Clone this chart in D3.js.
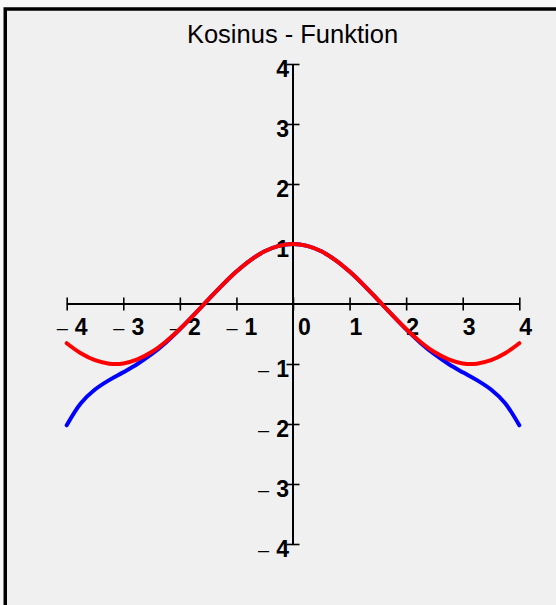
<!DOCTYPE html>
<html>
<head>
<meta charset="utf-8">
<script src="https://cdn.jsdelivr.net/npm/d3@7"></script>
<style>
  html, body { margin: 0; padding: 0; background: #f9f9f9; }
  svg { display: block; }
</style>
</head>
<body>
<svg id="chart" width="556" height="605"></svg>
<script>
// ---- data ----
const title = "Kosinus - Funktion";
const xValues = [-4, -3.75, -3.5, -3.25, -3, -2.75, -2.5, -2.25, -2, -1.75, -1.5, -1.25, -1, -0.75, -0.5, -0.25,
                 0, 0.25, 0.5, 0.75, 1, 1.25, 1.5, 1.75, 2, 2.25, 2.5, 2.75, 3, 3.25, 3.5, 3.75, 4];
// cos(x) (red)
const cosValues = [-0.654, -0.821, -0.937, -0.994, -0.990, -0.924, -0.801, -0.628, -0.416, -0.178, 0.071, 0.315, 0.540, 0.732, 0.878, 0.969,
                   1.000, 0.969, 0.878, 0.732, 0.540, 0.315, 0.071, -0.178, -0.416, -0.628, -0.801, -0.924, -0.990, -0.994, -0.937, -0.821, -0.654];
// Taylor approximation (blue)
const taylorValues = [-2.022, -1.654, -1.426, -1.269, -1.138, -0.999, -0.837, -0.644, -0.422, -0.180, 0.070, 0.315, 0.540, 0.732, 0.878, 0.969,
                      1.000, 0.969, 0.878, 0.732, 0.540, 0.315, 0.070, -0.180, -0.422, -0.644, -0.837, -0.999, -1.138, -1.269, -1.426, -1.654, -2.022];
const xTicks = [-4, -3, -2, -1, 0, 1, 2, 3, 4];
const yTicks = [-4, -3, -2, -1, 1, 2, 3, 4];

// ---- chart ----
const svg = d3.select("#chart");
svg.append("rect")
  .attr("x", 5.25).attr("y", 9)
  .attr("width", 600).attr("height", 650)
  .attr("fill", "#f0f0f0")
  .attr("stroke", "#000").attr("stroke-width", 3.5);

svg.append("text")
  .attr("x", 292.5).attr("y", 42.5)
  .attr("text-anchor", "middle")
  .attr("font-family", "'Liberation Sans', Arial, sans-serif")
  .attr("font-size", 25.5)
  .attr("fill", "#000")
  .text(title);

const x = d3.scaleLinear().domain([-4, 4]).range([66.7, 519.3]);
const y = d3.scaleLinear().domain([-4, 4]).range([544, 64]);
const x0 = x(0), y0 = y(0);

// x-axis
const gx = svg.append("g").attr("transform", `translate(0,${y0 - 6.5})`)
  .call(d3.axisBottom(x).tickValues(xTicks).tickSize(13).tickSizeOuter(0).tickFormat(""));
gx.select(".domain").remove();
gx.selectAll(".tick line").attr("stroke", "#000").attr("stroke-width", 1.6);
svg.append("line").attr("x1", x(-4)).attr("x2", x(4)).attr("y1", y0).attr("y2", y0)
  .attr("stroke", "#000").attr("stroke-width", 2);

// y-axis
const gy = svg.append("g").attr("transform", `translate(${x0 + 6.5},0)`)
  .call(d3.axisLeft(y).tickValues(yTicks).tickSize(13).tickSizeOuter(0).tickFormat(""));
gy.select(".domain").remove();
gy.selectAll(".tick line").attr("stroke", "#000").attr("stroke-width", 1.6);
svg.append("line").attr("x1", x0).attr("x2", x0).attr("y1", y(4)).attr("y2", y(-4))
  .attr("stroke", "#000").attr("stroke-width", 2);

const fontFam = "'Liberation Sans', Arial, sans-serif";
function addLabel(sel, v) {
  if (v < 0) {
    sel.append("tspan").attr("font-weight", "normal").attr("font-size", 20).text("\u2013\u2009");
    sel.append("tspan").attr("font-weight", "bold").attr("dx", 3).text(Math.abs(v));
  } else {
    sel.append("tspan").attr("font-weight", "bold").text(Math.abs(v));
  }
}

// x labels
xTicks.forEach(v => {
  const t = svg.append("text")
    .attr("x", v < 0 ? x(v) - 10 : (v === 0 ? x(v) + 5 : x(v)))
    .attr("y", y0 + 31)
    .attr("text-anchor", "start")
    .attr("font-family", fontFam).attr("font-size", 23).attr("fill", "#000");
  addLabel(t, v);
});
// y labels
yTicks.forEach(v => {
  const t = svg.append("text")
    .attr("x", x0 - 4)
    .attr("y", y(v) + 13)
    .attr("text-anchor", "end")
    .attr("font-family", fontFam).attr("font-size", 23).attr("fill", "#000");
  addLabel(t, v);
});

// curves
const line = d3.line().curve(d3.curveCatmullRom.alpha(0.5));
const seriesList = [
  { values: taylorValues, color: "#0000ff" },
  { values: cosValues, color: "#ff0000" }
];
seriesList.forEach(s => {
  svg.append("path")
    .attr("d", line(xValues.map((xv, i) => [x(xv), y(s.values[i])])))
    .attr("fill", "none")
    .attr("stroke", s.color)
    .attr("stroke-width", 4)
    .attr("stroke-linecap", "round")
    .attr("stroke-linejoin", "round");
});
</script>
</body>
</html>
